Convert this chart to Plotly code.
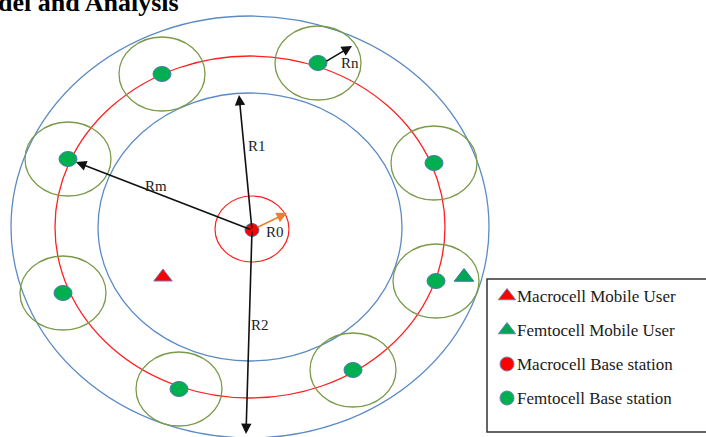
import plotly.graph_objects as go

# ---------------- data (pixel-space diagram coordinates) ----------------
ring_cx, ring_cy = 250, 227
ring_rx = [239, 152, 195]            # outer macro edge, inner edge, femto ring
ring_ry = [211, 134, 171]
ring_colors = ["#5B8BC5", "#5B8BC5", "#FF1F1F"]

bs_x, bs_y = 252, 230                # macrocell base station
r0_rx, r0_ry = 37, 33                # small red circle R0

femto_x = [162, 318, 434, 436, 353, 179, 63, 68]
femto_y = [74, 63, 163, 281, 370, 389, 293, 159]
femto_rx, femto_ry = 43, 37

macro_user = (163, 277)
femto_user = (464, 277)

arrow_names = ["R1", "R2", "Rm", "Rn", "R0"]
arrow_tail_x = [252, 252, 252, 325, 256]
arrow_tail_y = [230, 230, 230, 62, 228]
arrow_tip_x = [239, 246, 76, 352, 287]
arrow_tip_y = [95, 434, 162, 46, 213]
arrow_colors = ["#111111", "#111111", "#111111", "#111111", "#ED7D31"]
label_x = [257, 260, 156, 350, 275]
label_y = [146, 325, 186, 63, 232]

legend_labels = ["Macrocell Mobile User", "Femtocell Mobile User",
                 "Macrocell Base station", "Femtocell Base station"]
legend_symbols = ["triangle-up", "triangle-up", "circle", "circle"]
legend_colors = ["#FF0000", "#00A651", "#FF0000", "#00B050"]

title_text = "del and Analysis"

# ---------------- figure ----------------
W, H = 706, 437
fig = go.Figure()
shapes = []

for rx, ry, c in zip(ring_rx, ring_ry, ring_colors):
    shapes.append(dict(type="circle", xref="x", yref="y",
                       x0=ring_cx - rx, x1=ring_cx + rx,
                       y0=ring_cy - ry, y1=ring_cy + ry,
                       line=dict(color=c, width=1.3), layer="below"))

for fx, fy in zip(femto_x, femto_y):
    shapes.append(dict(type="circle", xref="x", yref="y",
                       x0=fx - femto_rx, x1=fx + femto_rx,
                       y0=fy - femto_ry, y1=fy + femto_ry,
                       line=dict(color="#7A9A48", width=1.3), layer="below"))

shapes.append(dict(type="circle", xref="x", yref="y",
                   x0=bs_x - r0_rx, x1=bs_x + r0_rx,
                   y0=bs_y - r0_ry - 1, y1=bs_y + r0_ry - 1,
                   line=dict(color="#FF1F1F", width=1.2), layer="below"))

# legend box
lg_x0, lg_y0, lg_x1, lg_y1 = 487, 279, 720, 432
shapes.append(dict(type="rect", xref="x", yref="y",
                   x0=lg_x0, x1=lg_x1, y0=lg_y0, y1=lg_y1,
                   line=dict(color="#333333", width=1.5), layer="below"))

annotations = []
# arrows
for i, name in enumerate(arrow_names):
    annotations.append(dict(x=arrow_tip_x[i], y=arrow_tip_y[i],
                            ax=arrow_tail_x[i], ay=arrow_tail_y[i],
                            xref="x", yref="y", axref="x", ayref="y",
                            text="", showarrow=True, arrowhead=2,
                            arrowsize=1.3, arrowwidth=1.6,
                            arrowcolor=arrow_colors[i]))
# arrow labels
for i, name in enumerate(arrow_names):
    annotations.append(dict(x=label_x[i], y=label_y[i], xref="x", yref="y",
                            text=name, showarrow=False,
                            font=dict(family="Liberation Serif", size=15,
                                      color="#222222")))

# dots drawn above
for fx, fy in zip(femto_x, femto_y):
    shapes.append(dict(type="circle", xref="x", yref="y",
                       x0=fx - 9, x1=fx + 9, y0=fy - 7.5, y1=fy + 7.5,
                       fillcolor="#00B050", line=dict(color="#4A78B0", width=1),
                       layer="above"))

# title (partly cut off at the top-left, as in the source)
annotations.append(dict(x=-4 / W, y=1 - 19 / H, xref="paper", yref="paper",
                        xanchor="left", yanchor="bottom",
                        text="<b>" + title_text + "</b>", showarrow=False,
                        font=dict(family="Liberation Serif", size=26,
                                  color="#000000")))

# users
fig.add_trace(go.Scatter(x=[macro_user[0]], y=[macro_user[1]], mode="markers",
                         marker=dict(symbol="triangle-up", size=16,
                                     color="#FF0000",
                                     line=dict(color="#6A7FB0", width=1)),
                         showlegend=False, hoverinfo="skip"))
fig.add_trace(go.Scatter(x=[femto_user[0]], y=[femto_user[1]], mode="markers",
                         marker=dict(symbol="triangle-up", size=17,
                                     color="#00A651",
                                     line=dict(color="#3C7AA8", width=1)),
                         showlegend=False, hoverinfo="skip"))

# manual legend
row_y0, row_gap = 296, 34
for i, lab in enumerate(legend_labels):
    yy = row_y0 + i * row_gap
    fig.add_trace(go.Scatter(x=[lg_x0 + 20], y=[yy], mode="markers",
                             marker=dict(symbol=legend_symbols[i],
                                         size=15 if i < 2 else 14,
                                         color=legend_colors[i],
                                         line=dict(color="#6A7FB0", width=1)),
                             showlegend=False, hoverinfo="skip"))
    annotations.append(dict(x=lg_x0 + 28, y=yy, xref="x", yref="y",
                            xanchor="left", yanchor="middle", text=lab,
                            showarrow=False,
                            font=dict(family="Liberation Serif", size=17,
                                      color="#1A1A1A")))

# macro base station dot
shapes.append(dict(type="circle", xref="x", yref="y",
                   x0=bs_x - 7, x1=bs_x + 7, y0=bs_y - 6.5, y1=bs_y + 6.5,
                   fillcolor="#FF0000", line=dict(color="#4A78B0", width=1),
                   layer="above"))

fig.update_layout(width=W, height=H, margin=dict(l=0, r=0, t=0, b=0),
                  paper_bgcolor="white", plot_bgcolor="white",
                  xaxis=dict(range=[0, W], visible=False, fixedrange=True),
                  yaxis=dict(range=[H, 0], visible=False, fixedrange=True),
                  shapes=shapes, annotations=annotations, showlegend=False)

fig.write_html("out.html", config={"displayModeBar": False},
               post_script="document.body.style.margin='0';")
